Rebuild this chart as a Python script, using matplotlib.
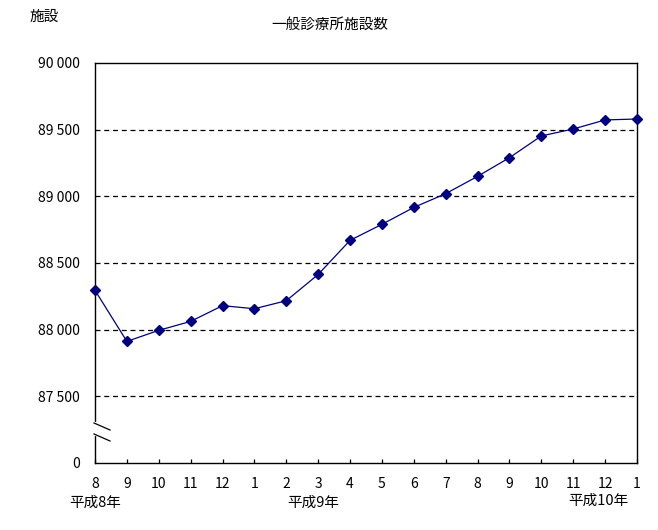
import matplotlib
matplotlib.use("Agg")
import matplotlib.pyplot as plt
from matplotlib.lines import Line2D

plt.rcParams['font.family'] = ['Noto Sans CJK JP', 'DejaVu Sans']

months = ["8", "9", "10", "11", "12", "1", "2", "3", "4", "5", "6", "7", "8", "9", "10", "11", "12", "1"]
values = [88295, 87912, 87995, 88062, 88180, 88157, 88217, 88414, 88670, 88790,
          88917, 89020, 89150, 89290, 89453, 89505, 89573, 89580]
ytick_vals = [87000, 87500, 88000, 88500, 89000, 89500, 90000]
ytick_labels = ["0", "87 500", "88 000", "88 500", "89 000", "89 500", "90 000"]
year_labels = ["平成8年", "平成9年", "平成10年"]

W, H = 658, 530
fig = plt.figure(figsize=(W / 100, H / 100), dpi=100)
ax = fig.add_axes([95 / W, (H - 463) / H, (637 - 95) / W, (463 - 63) / H])

x = list(range(len(values)))
ax.plot(x, values, color="#000080", lw=0.9, marker="D", markersize=4.8,
        markerfacecolor="#000080", markeredgecolor="#000080", clip_on=False, zorder=5)

ax.set_xlim(0, len(values) - 1)
ax.set_ylim(87000, 90000)

for v in ytick_vals[1:-1]:
    ax.axhline(v, color="black", lw=0.9, ls=(0, (4, 3)), zorder=1)

ax.set_yticks(ytick_vals)
ax.set_yticklabels(ytick_labels, fontsize=10)
ax.tick_params(axis="y", length=0, pad=11)
ax.set_xticks(x)
ax.set_xticklabels(months, fontsize=10)
ax.tick_params(axis="x", direction="in", length=3, pad=10, width=0.9)

for s in ax.spines.values():
    s.set_linewidth(1.0)
    s.set_color("black")

# axis break marks
trans = ax.transAxes
def px(xp, yp):
    return ((xp - 95) / (637 - 95), (463 - yp) / (463 - 63))
g0 = px(95, 424)
g1 = px(95, 434)
ax.add_line(Line2D([g0[0], g1[0]], [g0[1], g1[1]], transform=trans, color="white",
                   lw=3, clip_on=False, zorder=6))
for (ya, yb) in [(423, 430), (434, 441)]:
    a = px(94, ya)
    b = px(110, yb)
    ax.add_line(Line2D([a[0], b[0]], [a[1], b[1]], transform=trans, color="black",
                       lw=0.9, clip_on=False, zorder=7))

fig.text(330 / W, 1 - 25 / H, "一般診療所施設数", ha="center", va="center", fontsize=10.5)
fig.text(30 / W, 1 - 17 / H, "施設", ha="left", va="center", fontsize=10.5)
fig.text(95 / W, 1 - 503 / H, year_labels[0], ha="center", va="center", fontsize=10.5)
fig.text(313 / W, 1 - 503 / H, year_labels[1], ha="center", va="center", fontsize=10.5)
fig.text(598 / W, 1 - 501 / H, year_labels[2], ha="center", va="center", fontsize=10.5)

fig.savefig("out.png", dpi=100)
